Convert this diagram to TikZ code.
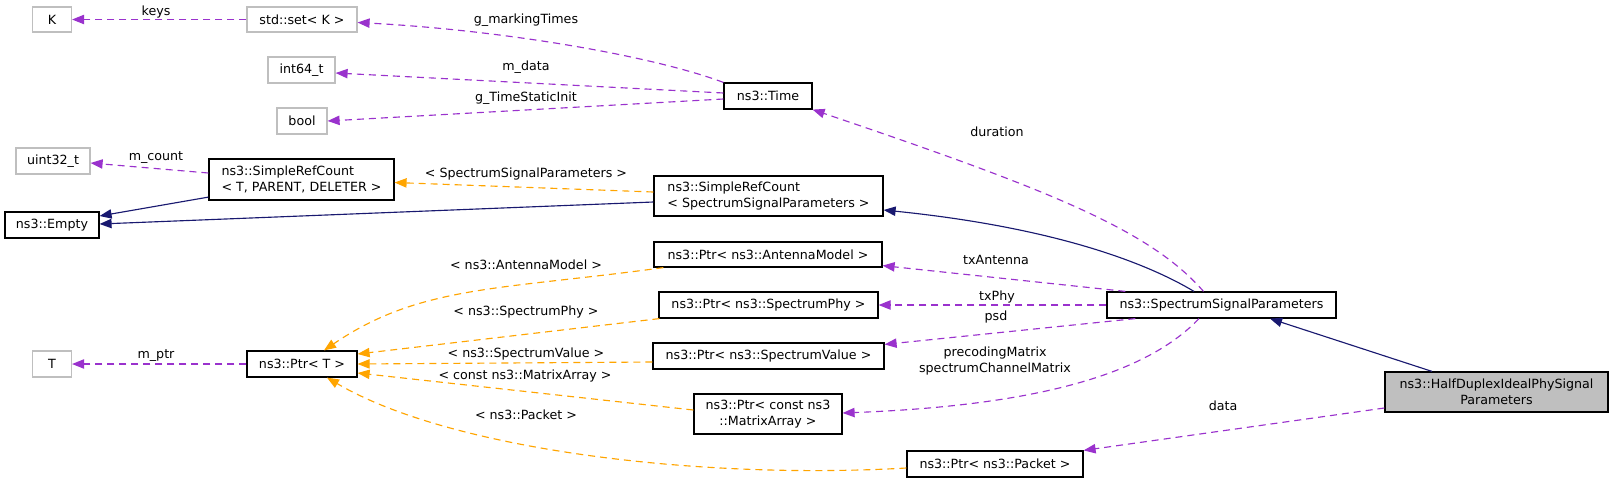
\documentclass[tikz,border=0pt]{standalone}
\usepackage{fontspec}
\setmainfont{DejaVu Sans}
\usetikzlibrary{arrows.meta,calc}
\definecolor{usecol}{HTML}{9A32CD}
\definecolor{tplcol}{HTML}{FFA500}
\definecolor{inhcol}{HTML}{191970}
\definecolor{extcol}{HTML}{BFBFBF}
\begin{document}
\begin{tikzpicture}[x=0.75pt,y=-0.75pt,
  sz/.style 2 args={minimum width=#1*0.75pt, minimum height=#2*0.75pt},
  box/.style={draw=black, line width=0.9pt, inner sep=0pt, align=center, font=\fontsize{9.5}{12}\selectfont, fill=white},
  extbox/.style={box, draw=extcol},
  lbl/.style={inner sep=0pt, font=\fontsize{9.5}{12}\selectfont, align=center},
  use/.style={draw=usecol, line width=0.85pt, dash pattern=on 5.25pt off 3.75pt, -{Triangle[length=9pt,width=7pt]}},
  tpl/.style={use, draw=tplcol},
  inh/.style={draw=inhcol, line width=0.85pt, -{Triangle[length=9pt,width=7pt]}},
]
\useasboundingbox (0,0) rectangle (1613,483);
\fill[white] (0,0) rectangle (1613,483);

% nodes
\node[extbox, sz={39}{25}] (K) at (52,19.5) {K};
\node[extbox, sz={110}{25}] (set) at (302,19.5) {std::set< K >};
\node[extbox, sz={67}{26}] (int64) at (301.5,70) {int64\_t};
\node[extbox, sz={50}{26}] (bool) at (302,121) {bool};
\node[box, sz={88}{26}] (time) at (768,96) {ns3::Time};
\node[extbox, sz={74}{26}] (uint32) at (53,161) {uint32\_t};
\node[box, sz={185}{41}, align=left] (srcT) at (301.5,179.5) {ns3::SimpleRefCount\\< T, PARENT, DELETER >};
\node[box, sz={94}{26}] (empty) at (52,225) {ns3::Empty};
\node[box, sz={229}{40}, align=left] (srcS) at (768.5,196) {ns3::SimpleRefCount\\< SpectrumSignalParameters >};
\node[box, sz={228}{25}] (ant) at (768,254.5) {ns3::Ptr< ns3::AntennaModel >};
\node[box, sz={219}{26}] (phy) at (768.5,305) {ns3::Ptr< ns3::SpectrumPhy >};
\node[box, sz={231}{26}] (val) at (768.5,356) {ns3::Ptr< ns3::SpectrumValue >};
\node[box, sz={148}{40}] (mat) at (768,414) {ns3::Ptr< const ns3\\::MatrixArray >};
\node[box, sz={110}{26}] (ptrT) at (302,364) {ns3::Ptr< T >};
\node[extbox, sz={39}{26}] (T) at (52,364) {T};
\node[box, sz={229}{26}] (ssp) at (1221.5,305) {ns3::SpectrumSignalParameters};
\node[box, sz={223}{40}, fill=extcol] (hd) at (1496.5,392) {ns3::HalfDuplexIdealPhySignal\\Parameters};
\node[box, sz={176}{26}] (pkt) at (995,464) {ns3::Ptr< ns3::Packet >};

% edges
\draw[use] (set.west) -- (K.east);
\draw[use] (time.north west) .. controls (650,55) and (500,30) .. ($(set.east)+(0,3)$);
\draw[use] ($(time.west)+(0,-3)$) -- ($(int64.east)+(0,3)$);
\draw[use] ($(time.west)+(0,3)$) -- (bool.east);
\draw[use] ($(srcT.west)+(0,-6.5)$) -- ($(uint32.east)+(0,2)$);
\draw[tpl] ($(srcS.west)+(0,-4)$) -- ($(srcT.east)+(0,3)$);
\draw[inh] ($(srcT.south west)+(0,-3.5)$) -- ($(empty.east)+(0,-9)$);
\draw[inh] ($(srcS.west)+(0,6)$) -- ($(empty.east)+(0,-1)$);
\draw[inh] ($(ssp.north)+(-27.5,0)$) .. controls (1150,265) and (1060,228) .. ($(srcS.east)+(0,14)$);
\draw[use] ($(ssp.north)+(-18,0)$) .. controls (1150,230) and (1050,190) .. (time.south east);
\draw[use] ($(ssp.north west)+(19,0)$) -- ($(ant.south east)+(0,-2)$);
\draw[use] (ssp.west) -- (phy.east);
\draw[use] ($(ssp.south west)+(29,0)$) -- ($(val.north east)+(0,2)$);
\draw[use] ($(ssp.south)+(-22.5,0)$) .. controls (1150,370) and (1050,405) .. ($(mat.east)+(0,-1)$);
\draw[inh] ($(hd.north)+(-64.5,0)$) -- ($(ssp.south)+(48.5,0)$);
\draw[use] ($(hd.west)+(0,16)$) -- (pkt.north east);
\draw[tpl] ($(ant.south west)+(10,0)$) .. controls (500,290) and (420,285) .. ($(ptrT.north)+(22,0)$);
\draw[tpl] ($(phy.south west)+(1,0)$) -- ($(ptrT.east)+(0,-10)$);
\draw[tpl] ($(val.west)+(0,6)$) -- (ptrT.east);
\draw[tpl] ($(mat.west)+(0,-4)$) -- ($(ptrT.east)+(0,9)$);
\draw[tpl] ($(pkt.west)+(0,4)$) .. controls (700,480) and (450,450) .. ($(ptrT.south)+(25,0)$);
\draw[use] (ptrT.west) -- (T.east);

% labels
\node[lbl] (lkeys) at (156,12) {keys};
\node[lbl] (lmark) at (526,20) {g\_markingTimes};
\node[lbl] (lmdata) at (526,67) {m\_data};
\node[lbl] (lstatic) at (526,98) {g\_TimeStaticInit};
\node[lbl] (lcount) at (156,158) {m\_count};
\node[lbl] (lssp) at (526,174) {< SpectrumSignalParameters >};
\node[lbl] (ldur) at (997,132) {duration};
\node[lbl] (lant) at (526,265) {< ns3::AntennaModel >};
\node[lbl] (ltxant) at (996,260) {txAntenna};
\node[lbl] (lphy) at (526,312) {< ns3::SpectrumPhy >};
\node[lbl] (ltxphy) at (997,297) {txPhy};
\node[lbl] (lpsd) at (996,317) {psd};
\node[lbl] (lval) at (526,354) {< ns3::SpectrumValue >};
\node[lbl] (lprec) at (995,361) {precodingMatrix\\spectrumChannelMatrix};
\node[lbl] (lmat) at (525,376) {< const ns3::MatrixArray >};
\node[lbl] (lpkt) at (526,415) {< ns3::Packet >};
\node[lbl] (ldata) at (1223,406) {data};
\node[lbl] (lmptr) at (156,356) {m\_ptr};
\end{tikzpicture}
\end{document}
